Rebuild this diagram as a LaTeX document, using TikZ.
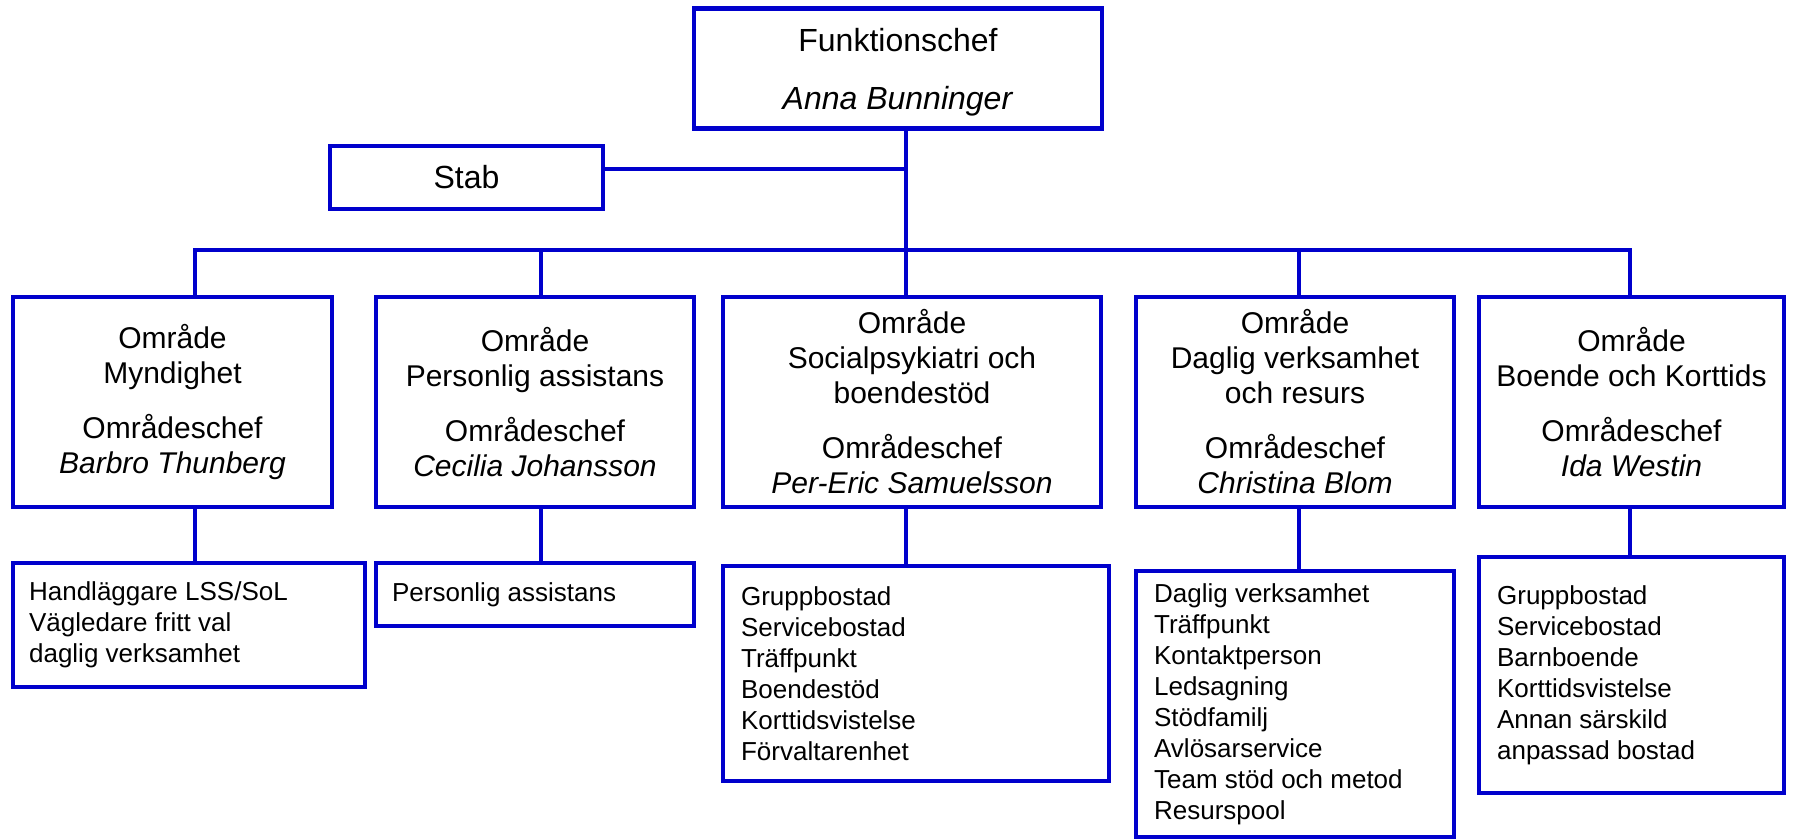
\documentclass[tikz,border=0pt]{standalone}
\usepackage{fontspec}
\setmainfont{Liberation Sans}
\definecolor{OrgBlue}{RGB}{0,0,204}
\tikzset{
  org/box/.style={
    draw=OrgBlue,
    line width=2.3pt,
    fill=white,
    align=center,
    inner sep=0pt,
    font=\fontsize{15}{17.5}\selectfont
  },
  org/list/.style={
    draw=OrgBlue,
    line width=2.3pt,
    fill=white,
    inner sep=0pt
  },
  org/title/.style={
    align=center,
    inner sep=0pt,
    font=\fontsize{16}{19}\selectfont
  },
  org/listtext/.style={
    anchor=west,
    align=left,
    inner sep=0pt,
    font=\fontsize{13}{15.5}\selectfont
  },
  org/line/.style={draw=OrgBlue, line width=2.3pt}
}

\begin{document}
\begin{tikzpicture}[x=0.5pt,y=-0.5pt]
  \useasboundingbox (0,0) rectangle (1802,839);
  % top and staff
  \node[org/box,minimum width=204pt,minimum height=60pt] (fc) at (898,68.5) {};
  \node[org/title] (fctxt) at ([yshift=-2pt]fc.center)
    {Funktionschef\\[10pt]\textit{Anna Bunninger}};
  \node[org/box,font=\fontsize{16}{19}\selectfont,minimum width=136.5pt,minimum height=31.5pt] (stab) at (466.5,177.5) {Stab};
  % areas
  \node[org/box,minimum width=159.5pt,minimum height=105pt] (a1) at (172.5,402)
    {Område\\Myndighet\\[10pt]Områdeschef\\\textit{Barbro Thunberg}};
  \node[org/box,minimum width=159pt,minimum height=105pt] (a2) at (535,402)
    {Område\\Personlig assistans\\[10pt]Områdeschef\\\textit{Cecilia Johansson}};
  \node[org/box,minimum width=189pt,minimum height=105pt] (a3) at (912,402)
    {Område\\Socialpsykiatri och\\boendestöd\\[10pt]Områdeschef\\\textit{Per-Eric Samuelsson}};
  \node[org/box,minimum width=159pt,minimum height=105pt] (a4) at (1295,402)
    {Område\\Daglig verksamhet\\och resurs\\[10pt]Områdeschef\\\textit{Christina Blom}};
  \node[org/box,minimum width=152.5pt,minimum height=105pt] (a5) at (1631.5,402)
    {Område\\Boende och Korttids\\[10pt]Områdeschef\\\textit{Ida Westin}};
  % units
  \node[org/list,minimum width=176pt,minimum height=62pt] (l1) at (189,625) {};
  \node[org/list,minimum width=159pt,minimum height=31.5pt] (l2) at (535,594.5) {};
  \node[org/list,minimum width=193pt,minimum height=107.5pt] (l3) at (916,673.5) {};
  \node[org/list,minimum width=159pt,minimum height=133pt] (l4) at (1295,704) {};
  \node[org/list,minimum width=152.5pt,minimum height=118pt] (l5) at (1631.5,675) {};
  \node[org/listtext] (l1txt) at ([xshift=9pt]l1.west)
    {Handläggare LSS/SoL\\Vägledare fritt val\\daglig verksamhet};
  \node[org/listtext] (l2txt) at ([xshift=9pt]l2.west) {Personlig assistans};
  \node[org/listtext] (l3txt) at ([xshift=10pt]l3.west)
    {Gruppbostad\\Servicebostad\\Träffpunkt\\Boendestöd\\Korttidsvistelse\\Förvaltarenhet};
  \node[org/listtext] (l4txt) at ([xshift=10pt]l4.west)
    {Daglig verksamhet\\Träffpunkt\\Kontaktperson\\Ledsagning\\Stödfamilj\\Avlösarservice\\Team stöd och metod\\Resurspool};
  \node[org/listtext] (l5txt) at ([xshift=10pt]l5.west)
    {Gruppbostad\\Servicebostad\\Barnboende\\Korttidsvistelse\\Annan särskild\\anpassad bostad};
  % bus points
  \coordinate (b1) at (195,250);
  \coordinate (b2) at (541,250);
  \coordinate (b3) at (906,250);
  \coordinate (b4) at (1299,250);
  \coordinate (b5) at (1630,250);
  \coordinate (sj) at (906,169);
  % connectors
  \draw[org/line] (fc.south -| b3) -- (a3.north -| b3);
  \draw[org/line] (stab.east |- sj) -- (sj);
  \draw[org/line] (a1.north -| b1) -- (b1) -- (b5) -- (a5.north -| b5);
  \draw[org/line] (b2) -- (a2.north -| b2);
  \draw[org/line] (b4) -- (a4.north -| b4);
  \foreach \i in {1,...,5}
    \draw[org/line] (a\i.south -| b\i) -- (l\i.north -| b\i);
\end{tikzpicture}
\end{document}
